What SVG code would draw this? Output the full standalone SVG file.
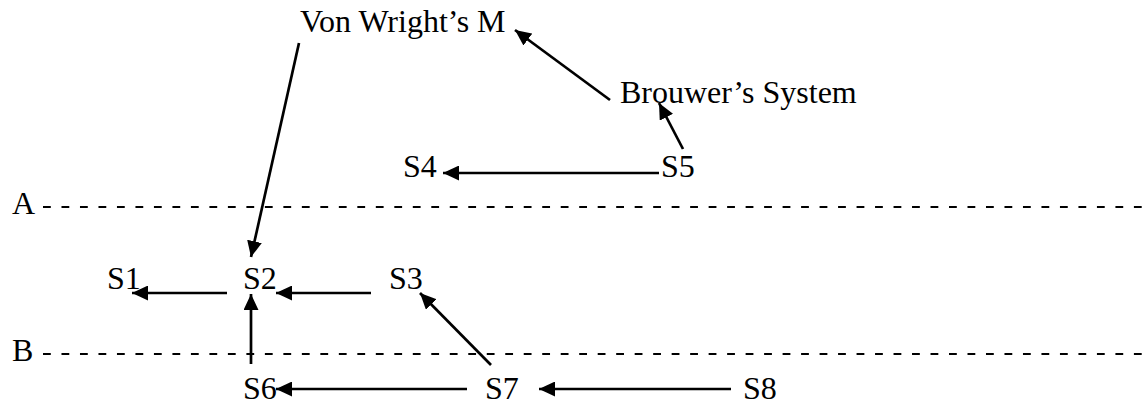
<svg xmlns="http://www.w3.org/2000/svg" width="1143" height="406" viewBox="0 0 1143 406">
<style>
text{font-family:"Liberation Serif","Times New Roman",serif;font-size:32px;fill:#000}
.dash{stroke:#000;stroke-width:2;stroke-dasharray:7.8 10.69;fill:none}
.arr{stroke:#000;stroke-width:2.7;fill:none;marker-end:url(#ah)}
</style>
<defs>
<marker id="ah" markerUnits="userSpaceOnUse" markerWidth="16" markerHeight="15" refX="16" refY="7.5" orient="auto" viewBox="0 0 16 15">
<path d="M0,0 L16,7.5 L0,15 z" fill="#000"/>
</marker>
</defs>
<rect width="1143" height="406" fill="#fff"/>
<g id="levels">
<text x="12" y="214">A</text>
<line class="dash" x1="43" y1="207" x2="1143" y2="207"/>
<text x="12" y="361">B</text>
<line class="dash" x1="43" y1="354" x2="1143" y2="354"/>
</g>
<g id="vonwright"><text x="300" y="32">Von Wright’s M</text></g>
<g id="brouwer"><text x="620" y="103">Brouwer’s System</text></g>
<g id="S4"><text x="403" y="177">S4</text></g>
<g id="S5"><text x="661" y="177">S5</text></g>
<g id="S1"><text x="107" y="289">S1</text></g>
<g id="S2"><text x="243" y="289">S2</text></g>
<g id="S3"><text x="389" y="289">S3</text></g>
<g id="S6"><text x="243" y="399">S6</text></g>
<g id="S7"><text x="485" y="399">S7</text></g>
<g id="S8"><text x="743" y="399">S8</text></g>
<g id="connectors">
<line class="arr" x1="299" y1="43" x2="251" y2="257"/>
<line class="arr" x1="610" y1="100" x2="515" y2="30"/>
<line class="arr" x1="683" y1="149" x2="659" y2="103"/>
<line class="arr" x1="659" y1="173" x2="443" y2="173"/>
<line class="arr" x1="227" y1="293" x2="132" y2="293"/>
<line class="arr" x1="371" y1="293" x2="276" y2="293"/>
<line class="arr" x1="251" y1="364" x2="251" y2="294"/>
<line class="arr" x1="491" y1="365" x2="420" y2="293"/>
<line class="arr" x1="467" y1="389" x2="276" y2="389"/>
<line class="arr" x1="731" y1="389" x2="539" y2="389"/>
</g>
</svg>
